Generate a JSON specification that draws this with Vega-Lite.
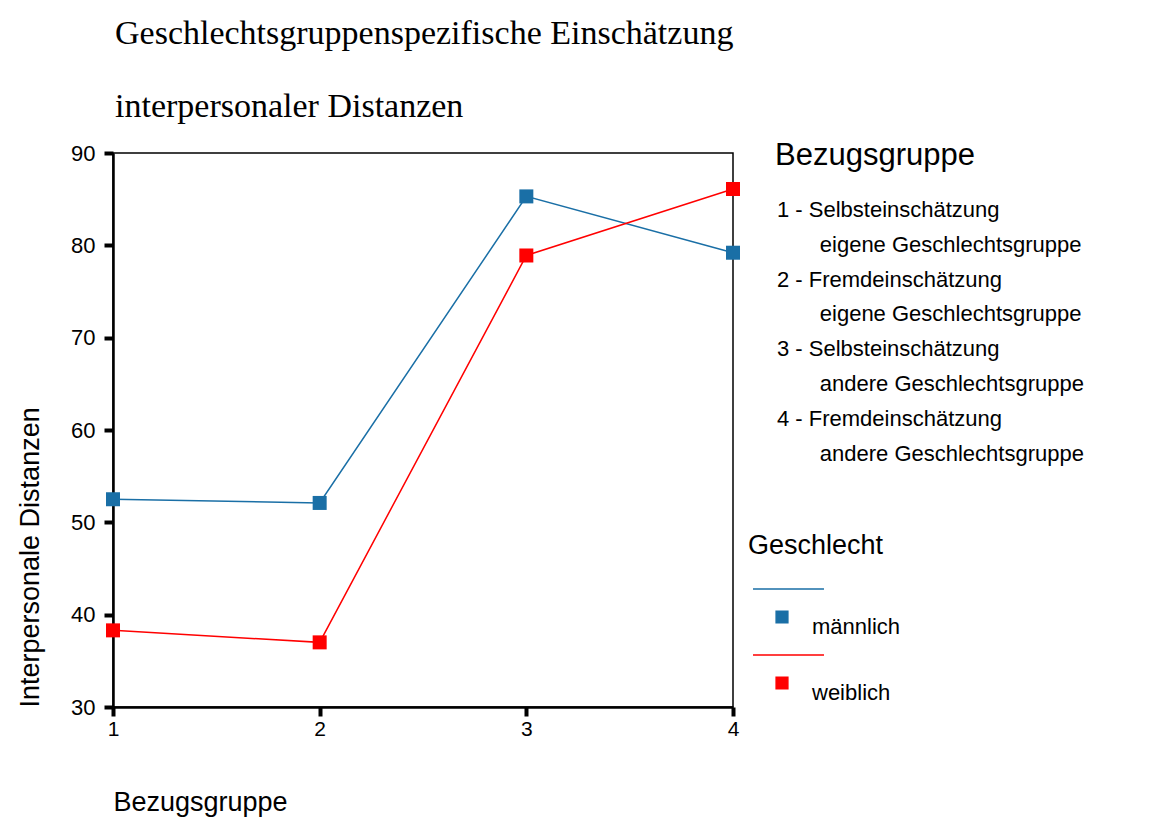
{
  "$schema": "https://vega.github.io/schema/vega-lite/v6.json",
  "autosize": {"type": "none"},
  "width": 620,
  "height": 554,
  "padding": {"left": 113, "top": 153, "right": 426, "bottom": 115},
  "background": "white",
  "title": {
    "text": ["Geschlechtsgruppenspezifische Einschätzung", "interpersonaler Distanzen"],
    "anchor": "start",
    "frame": "group",
    "font": "Liberation Serif",
    "fontSize": 34,
    "fontWeight": "normal",
    "color": "black",
    "lineHeight": 73,
    "offset": 17,
    "dx": 2
  },
  "config": {
    "view": {"stroke": "black", "strokeWidth": 1.5},
    "font": "Liberation Sans"
  },
  "layer": [
    {
      "data": {"name": "main", "values": [
        {"Bezugsgruppe": 1, "Geschlecht": "männlich", "Distanz": 52.5},
        {"Bezugsgruppe": 2, "Geschlecht": "männlich", "Distanz": 52.1},
        {"Bezugsgruppe": 3, "Geschlecht": "männlich", "Distanz": 85.3},
        {"Bezugsgruppe": 4, "Geschlecht": "männlich", "Distanz": 79.2},
        {"Bezugsgruppe": 1, "Geschlecht": "weiblich", "Distanz": 38.3},
        {"Bezugsgruppe": 2, "Geschlecht": "weiblich", "Distanz": 37.0},
        {"Bezugsgruppe": 3, "Geschlecht": "weiblich", "Distanz": 78.9},
        {"Bezugsgruppe": 4, "Geschlecht": "weiblich", "Distanz": 86.1}
      ]},
      "encoding": {
        "x": {
          "field": "Bezugsgruppe",
          "type": "quantitative",
          "scale": {"domain": [1, 4], "nice": false, "zero": false},
          "axis": {
            "values": [1, 2, 3, 4],
            "format": "d",
            "grid": false,
            "labelFlush": false,
            "labelFont": "Liberation Sans",
            "labelFontSize": 21,
            "labelColor": "black",
            "labelPadding": 2,
            "tickColor": "black",
            "tickWidth": 4,
            "tickSize": 9,
            "domainColor": "black",
            "domainWidth": 2.5,
            "title": "Bezugsgruppe",
            "titleFont": "Liberation Sans",
            "titleFontSize": 27,
            "titleFontWeight": "normal",
            "titleColor": "black",
            "titleAnchor": "start",
            "titlePadding": 50
          }
        },
        "y": {
          "field": "Distanz",
          "type": "quantitative",
          "scale": {"domain": [30, 90], "nice": false, "zero": false},
          "axis": {
            "values": [30, 40, 50, 60, 70, 80, 90],
            "grid": false,
            "labelFlush": false,
            "labelFont": "Liberation Sans",
            "labelFontSize": 22,
            "labelColor": "black",
            "labelPadding": 9,
            "tickColor": "black",
            "tickWidth": 4,
            "tickSize": 9,
            "domainColor": "black",
            "domainWidth": 2.5,
            "title": "Interpersonale Distanzen",
            "titleFont": "Liberation Sans",
            "titleFontSize": 27,
            "titleFontWeight": "normal",
            "titleColor": "black",
            "titleAnchor": "start",
            "titlePadding": 26
          }
        },
        "color": {
          "field": "Geschlecht",
          "type": "nominal",
          "scale": {"domain": ["männlich", "weiblich"], "range": ["#1a6fa6", "#ff0000"]},
          "legend": {
            "title": "Geschlecht",
            "orient": "none",
            "legendX": 635,
            "legendY": 380,
            "titleFont": "Liberation Sans",
            "titleFontSize": 27,
            "titleFontWeight": "normal",
            "titleColor": "black",
            "titlePadding": 46,
            "titleLimit": 1000,
            "labelFont": "Liberation Sans",
            "labelFontSize": 22,
            "labelColor": "black",
            "labelBaseline": "top",
            "labelOffset": 19,
            "symbolOffset": 23,
            "rowPadding": 13,
            "symbolType": "M-4.46,-4.31L6.46,-4.31M-0.9,-0.9L0.9,-0.9L0.9,0.9L-0.9,0.9Z",
            "symbolSize": 169,
            "symbolStrokeWidth": 1.5,
            "symbolOpacity": 1
          }
        }
      },
      "layer": [
        {"mark": {"type": "line", "strokeWidth": 1.5, "clip": false}},
        {"mark": {"type": "point", "shape": "square", "filled": true, "size": 196, "opacity": 1, "clip": false}}
      ]
    },
    {
      "data": {"name": "legendrows", "values": [
        {"k": "1a"}, {"k": "1b"}, {"k": "2a"}, {"k": "2b"},
        {"k": "3a"}, {"k": "3b"}, {"k": "4a"}, {"k": "4b"}
      ]},
      "mark": {"type": "point", "opacity": 0},
      "encoding": {
        "shape": {
          "field": "k",
          "type": "nominal",
          "scale": {"domain": ["1a", "1b", "2a", "2b", "3a", "3b", "4a", "4b"]},
          "legend": {
            "title": "Bezugsgruppe",
            "orient": "none",
            "legendX": 662,
            "legendY": -12,
            "titleFont": "Liberation Sans",
            "titleFontSize": 31,
            "titleFontWeight": "normal",
            "titleColor": "black",
            "titleLimit": 1000,
            "titlePadding": 27,
            "labelFont": "Liberation Sans",
            "labelFontSize": 22,
            "labelColor": "black",
            "labelOffset": -20,
            "labelLimit": 1000,
            "rowPadding": 12.8,
            "symbolSize": 1,
            "symbolOpacity": 0,
            "symbolStrokeWidth": 0,
            "labelExpr": "{'1a': '1 - Selbsteinschätzung', '1b': '\u200b\u00a0\u00a0\u00a0\u00a0\u00a0\u00a0\u00a0eigene Geschlechtsgruppe', '2a': '2 - Fremdeinschätzung', '2b': '\u200b\u00a0\u00a0\u00a0\u00a0\u00a0\u00a0\u00a0eigene Geschlechtsgruppe', '3a': '3 - Selbsteinschätzung', '3b': '\u200b\u00a0\u00a0\u00a0\u00a0\u00a0\u00a0\u00a0andere Geschlechtsgruppe', '4a': '4 - Fremdeinschätzung', '4b': '\u200b\u00a0\u00a0\u00a0\u00a0\u00a0\u00a0\u00a0andere Geschlechtsgruppe'}[datum.label]"
          }
        }
      }
    }
  ],
  "resolve": {"scale": {"shape": "independent"}}
}
